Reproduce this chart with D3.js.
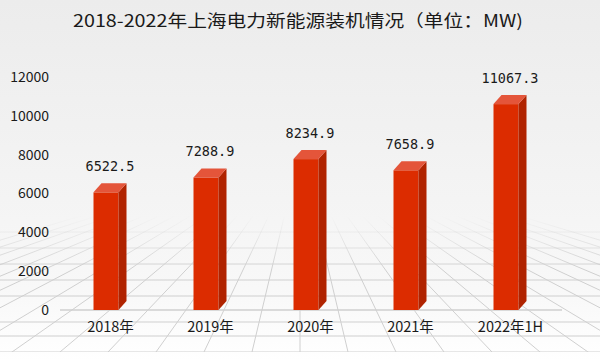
<!DOCTYPE html>
<html><head><meta charset="utf-8">
<script src="https://cdn.jsdelivr.net/npm/d3@7"></script>
<style>html,body{margin:0;padding:0;background:#fff}svg{display:block}</style>
</head><body>
<script>
const categories = ["2018年","2019年","2020年","2021年","2022年1H"];
const values = [6522.5, 7288.9, 8234.9, 7658.9, 11067.3];
const valueLabels = ["6522.5","7288.9","8234.9","7658.9","11067.3"];
const yTicks = [0,2000,4000,6000,8000,10000,12000];
const title = "2018-2022年上海电力新能源装机情况（单位：MW)";

const W = 600, H = 361;
const svg = d3.select("body").append("svg").attr("width", W).attr("height", H);
const defs = svg.append("defs");
const bg = defs.append("linearGradient").attr("id","bg").attr("x1",0).attr("y1",0).attr("x2",0).attr("y2",1);
bg.append("stop").attr("offset","0").attr("stop-color","#ececec");
bg.append("stop").attr("offset","0.55").attr("stop-color","#f4f4f4");
bg.append("stop").attr("offset","0.8").attr("stop-color","#f8f8f8");
bg.append("stop").attr("offset","1").attr("stop-color","#ffffff");
svg.append("rect").attr("width",W).attr("height",H).attr("fill","url(#bg)");

// floor grid (decorative perspective)
const fade = defs.append("linearGradient").attr("id","fade").attr("gradientUnits","userSpaceOnUse")
  .attr("x1",0).attr("y1",215).attr("x2",0).attr("y2",352);
fade.append("stop").attr("offset","0").attr("stop-color","#d6d6d6").attr("stop-opacity",0);
fade.append("stop").attr("offset","0.4").attr("stop-color","#cfcfcf").attr("stop-opacity",1);
fade.append("stop").attr("offset","1").attr("stop-color","#cfcfcf").attr("stop-opacity",1);
defs.append("clipPath").attr("id","floor").append("rect").attr("x",0).attr("y",215).attr("width",W).attr("height",137);
const floor = svg.append("g").attr("clip-path","url(#floor)").attr("stroke","url(#fade)").attr("stroke-width",1).attr("fill","none");
const vx = 300, vy = 150;
d3.range(-14, 15).forEach(i => {
  const bx = vx + i * 48;
  floor.append("line").attr("x1",vx).attr("y1",vy).attr("x2",vx + (bx - vx) * 3).attr("y2", vy + (352 - vy) * 3);
});
[232, 248, 264, 280, 296, 322, 336, 352].forEach(yy => {
  floor.append("line").attr("x1",0).attr("x2",W).attr("y1",yy).attr("y2",yy);
});

const x = d3.scalePoint().domain(categories).range([60, 560]).padding(0.5);
const y = d3.scaleLinear().domain([0, 12000]).range([310, 77]);

// axis line
svg.append("line").attr("x1",60).attr("x2",562).attr("y1",y(0)).attr("y2",y(0))
  .attr("stroke","#cfcfcf").attr("stroke-width",1.5);

// y axis labels
const yAxis = d3.axisLeft(y).tickValues(yTicks).tickFormat(d3.format("d")).tickSize(0).tickPadding(0);
const ya = svg.append("g").attr("transform","translate(49,0)").call(yAxis);
ya.select(".domain").remove();
ya.selectAll("text").attr("font-family","'Noto Sans CJK SC','Noto Sans',sans-serif")
  .attr("font-size",14).attr("fill","#1a1a1a");

// x axis labels
const xAxis = d3.axisBottom(x).tickSize(0).tickPadding(0);
const xa = svg.append("g").attr("transform","translate(0,322)").call(xAxis);
xa.select(".domain").remove();
xa.selectAll("text").attr("font-family","'Noto Sans CJK SC','Noto Sans',sans-serif")
  .attr("font-size",14.5).attr("fill","#1a1a1a").attr("dy","0.71em");

// 3D bars
const fw = 25, dx = 8, dy = 9;
const bars = svg.append("g");
categories.forEach((c, i) => {
  const cx = x(c);
  const fx = cx - (fw + dx) / 2;
  const backTop = y(values[i]);
  const frontTop = backTop + dy;
  const base = y(0);
  const g = bars.append("g");
  g.append("rect").attr("x",fx).attr("y",frontTop).attr("width",fw).attr("height",base - frontTop).attr("fill","#dc2c00");
  g.append("polygon").attr("points",[[fx+fw,frontTop],[fx+fw+dx,backTop],[fx+fw+dx,base-dy],[fx+fw,base]].map(p=>p.join(",")).join(" ")).attr("fill","#b02300");
  g.append("polygon").attr("points",[[fx,frontTop],[fx+dx,backTop],[fx+fw+dx,backTop],[fx+fw,frontTop]].map(p=>p.join(",")).join(" ")).attr("fill","#e4553a");
  svg.append("text").attr("x",cx).attr("y",backTop - 12).attr("text-anchor","middle")
    .attr("font-family","'DejaVu Sans Mono','Liberation Mono',monospace").attr("font-size",13.5)
    .attr("fill","#1a1a1a").text(valueLabels[i]);
});

// title
svg.append("text").attr("x",298).attr("y",27).attr("text-anchor","middle")
  .attr("font-family","'Noto Sans CJK SC','Noto Sans',sans-serif").attr("font-size",17)
  .attr("fill","#1a1a1a").attr("textLength",450).attr("lengthAdjust","spacingAndGlyphs").text(title);
</script>
</body></html>
